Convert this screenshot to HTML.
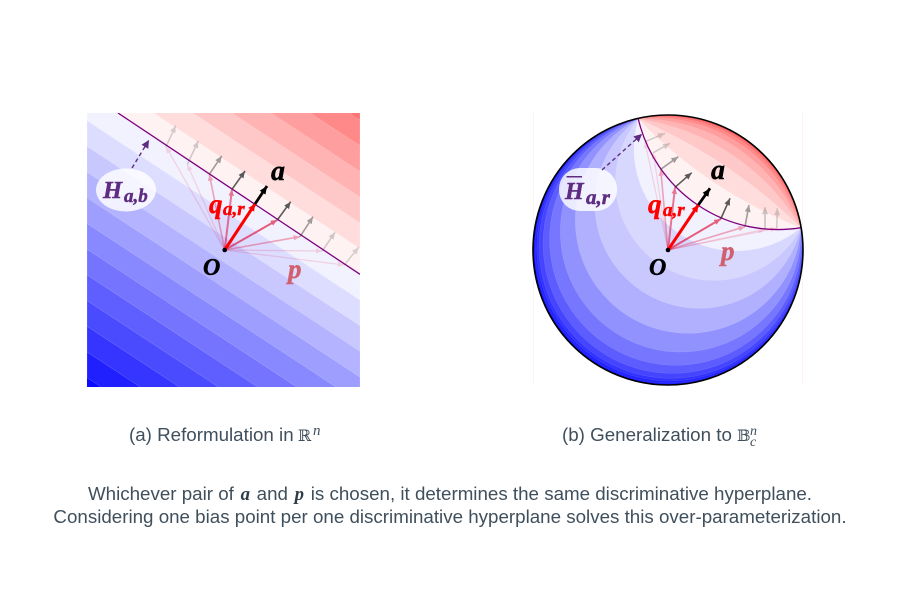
<!DOCTYPE html>
<html><head><meta charset="utf-8"><style>
html,body{margin:0;padding:0;background:#fff;width:900px;height:600px;overflow:hidden}
svg{display:block}
.m{font-family:"Liberation Serif",serif;font-weight:bold;font-style:italic;stroke-width:.45;paint-order:stroke}
.c{font-family:"Liberation Sans",sans-serif;font-size:18.75px;fill:#3f4f5c}
.b{stroke:#fff;stroke-opacity:.3;stroke-width:.5}
.b2{stroke:#fff;stroke-opacity:.18;stroke-width:.4}
</style></head><body>
<svg width="900" height="600" viewBox="0 0 900 600" xmlns="http://www.w3.org/2000/svg">
<defs>
<clipPath id="sq"><rect x="87" y="113" width="273" height="274"/></clipPath>
<clipPath id="ci"><circle cx="668" cy="250" r="135"/></clipPath>
<marker id="hk" markerUnits="userSpaceOnUse" markerWidth="10" markerHeight="8" refX="8" refY="3.5" orient="auto"><path d="M0 0L8 3.5L0 7Z" fill="#000"/></marker>
<marker id="hg" markerUnits="userSpaceOnUse" markerWidth="8" markerHeight="7" refX="7" refY="3" orient="auto"><path d="M0 0L7 3L0 6Z" fill="#333"/></marker>
<marker id="hr" markerUnits="userSpaceOnUse" markerWidth="8" markerHeight="7" refX="6.5" refY="2.75" orient="auto"><path d="M0 0L6.5 2.75L0 5.5Z" fill="#e0103a"/></marker>
<marker id="hR" markerUnits="userSpaceOnUse" markerWidth="9" markerHeight="8" refX="7" refY="3.5" orient="auto"><path d="M0 0L7 3.5L0 7Z" fill="#f00"/></marker>
<marker id="hp" markerUnits="userSpaceOnUse" markerWidth="10" markerHeight="9" refX="8" refY="4" orient="auto"><path d="M0 0L8 4L0 8Z" fill="#5e2d82"/></marker>
</defs>

<!-- LEFT PANEL -->
<g clip-path="url(#sq)">
<rect x="87" y="113" width="273" height="274" fill="#0b0bff"/>
<g class="b">
<polygon points="87,377.7 360,557 360,0 87,0" fill="#2020ff"/>
<polygon points="87,352 360,531.3 360,0 87,0" fill="#3535ff"/>
<polygon points="87,326.3 360,505.6 360,0 87,0" fill="#4a4aff"/>
<polygon points="87,300.6 360,479.9 360,0 87,0" fill="#5f5fff"/>
<polygon points="87,274.9 360,454.2 360,0 87,0" fill="#7474ff"/>
<polygon points="87,249.2 360,428.5 360,0 87,0" fill="#8989ff"/>
<polygon points="87,223.5 360,402.8 360,0 87,0" fill="#9e9eff"/>
<polygon points="87,197.8 360,377.1 360,0 87,0" fill="#b3b3ff"/>
<polygon points="87,172.1 360,351.4 360,0 87,0" fill="#c8c8ff"/>
<polygon points="87,146.4 360,325.7 360,0 87,0" fill="#ddddff"/>
<polygon points="87,120.7 360,300 360,0 87,0" fill="#f2f2ff"/>
<polygon points="87,92.6 360,274.3 360,0 87,0" fill="#fff2f2"/>
<polygon points="87,69.3 360,248.6 360,0 87,0" fill="#ffdddd"/>
<polygon points="87,43.6 360,222.9 360,0 87,0" fill="#ffc8c8"/>
<polygon points="87,17.9 360,197.2 360,0 87,0" fill="#ffb3b3"/>
<polygon points="87,-7.8 360,171.5 360,0 87,0" fill="#ff9e9e"/>
<polygon points="87,-33.5 360,145.8 360,0 87,0" fill="#ff8989"/>
<polygon points="87,-59.2 360,120.1 360,0 87,0" fill="#ff7474"/>
</g>
<line x1="118" y1="113" x2="360" y2="274.3" stroke="#800080" stroke-width="1.3"/>
</g>
<!-- left grey arrows -->
<g stroke="#333" fill="none" stroke-width="1.6">
<line x1="166" y1="146.7" x2="175.7" y2="125.7" opacity=".2" marker-end="url(#hg)"/>
<line x1="187.3" y1="164.3" x2="198.3" y2="141" opacity=".22" marker-end="url(#hg)"/>
<line x1="209.3" y1="174.3" x2="221.7" y2="156" opacity=".45" marker-end="url(#hg)"/>
<line x1="232" y1="189.3" x2="245" y2="171" opacity=".8" marker-end="url(#hg)"/>
<line x1="277.3" y1="220" x2="290.7" y2="201.7" opacity=".8" marker-end="url(#hg)"/>
<line x1="300" y1="236.7" x2="313" y2="216.7" opacity=".45" marker-end="url(#hg)"/>
<line x1="322.3" y1="251" x2="335" y2="232.3" opacity=".22" marker-end="url(#hg)"/>
<line x1="344.3" y1="265" x2="358.7" y2="247.3" opacity=".18" marker-end="url(#hg)"/>
</g>
<line x1="255" y1="204" x2="267" y2="186" stroke="#000" stroke-width="2.8" marker-end="url(#hk)"/>
<!-- left red arrows -->
<g stroke="#e0103a" fill="none">
<line x1="224.7" y1="250" x2="166" y2="146.7" opacity=".14" stroke-width="1.3" marker-end="url(#hr)"/>
<line x1="224.7" y1="250" x2="187.3" y2="164.3" opacity=".14" stroke-width="1.3" marker-end="url(#hr)"/>
<line x1="224.7" y1="250" x2="209.3" y2="174.3" opacity=".35" stroke-width="1.6" marker-end="url(#hr)"/>
<line x1="224.7" y1="250" x2="232" y2="189.3" opacity=".55" stroke-width="2" marker-end="url(#hr)"/>
<line x1="224.7" y1="250" x2="277.3" y2="220" opacity=".65" stroke-width="2" marker-end="url(#hr)"/>
<line x1="224.7" y1="250" x2="300" y2="236.7" opacity=".35" stroke-width="1.6" marker-end="url(#hr)"/>
<line x1="224.7" y1="250" x2="322.3" y2="251" opacity=".16" stroke-width="1.3" marker-end="url(#hr)"/>
<line x1="224.7" y1="250" x2="344.3" y2="265" opacity=".14" stroke-width="1.3" marker-end="url(#hr)"/>
</g>
<line x1="224.7" y1="250" x2="255" y2="204" stroke="#f00" stroke-width="3" marker-end="url(#hR)"/>
<circle cx="224.7" cy="250" r="2.3" fill="#000"/>
<ellipse cx="126" cy="190" rx="30" ry="21.5" fill="#fff" fill-opacity=".82"/>
<line x1="132" y1="168" x2="149" y2="140" stroke="#5e2d82" stroke-width="1.4" stroke-dasharray="4 3" marker-end="url(#hp)"/>
<text class="m" x="103" y="198" font-size="24.500" fill="#5e2d82" stroke="#5e2d82">H</text>
<text class="m" x="124" y="202" font-size="19" fill="#5e2d82" stroke="#5e2d82">a,b</text>
<text class="m" x="271" y="180" font-size="28" fill="#000" stroke="#000">a</text>
<text class="m" x="203" y="275" font-size="24" fill="#000" stroke="#000">O</text>
<text class="m" x="288" y="278" font-size="27" fill="#d0606f" stroke="#d0606f">p</text>
<text class="m" x="209" y="213" font-size="27" fill="#f00" stroke="#f00">q</text>
<text class="m" x="223" y="215" font-size="19" fill="#f00" stroke="#f00">a,r</text>

<!-- RIGHT PANEL -->
<line x1="533.500" y1="113" x2="533.500" y2="385" stroke="#fdf3f6"/>
<line x1="802.500" y1="113" x2="802.500" y2="385" stroke="#fdf3f6"/>
<g clip-path="url(#ci)">
<circle cx="668" cy="250" r="135" fill="#0b0bff"/>
<g class="b2">
<path d="M638.3 119A134.2 134.2 0 1 0 801 227.7A135 135 0 0 0 638.3 119Z" fill="#1414ff"/>
<path d="M638.3 119A133.8 133.8 0 1 0 801 227.7A135 135 0 0 0 638.3 119Z" fill="#2222ff"/>
<path d="M638.3 119A132.9 132.9 0 1 0 801 227.7A135 135 0 0 0 638.3 119Z" fill="#3333ff"/>
<path d="M638.3 119A131.7 131.7 0 1 0 801 227.7A135 135 0 0 0 638.3 119Z" fill="#4545ff"/>
<path d="M638.3 119A129.5 129.5 0 1 0 801 227.7A135 135 0 0 0 638.3 119Z" fill="#5c5cff"/>
<path d="M638.3 119A126 126 0 1 0 801 227.7A135 135 0 0 0 638.3 119Z" fill="#7676ff"/>
<path d="M638.3 119A120.4 120.4 0 1 0 801 227.7A135 135 0 0 0 638.3 119Z" fill="#9292ff"/>
<path d="M638.3 119A113 113 0 1 0 801 227.7A135 135 0 0 0 638.3 119Z" fill="#b0b0ff"/>
<path d="M638.3 119A104.5 104.5 0 1 0 801 227.7A135 135 0 0 0 638.3 119Z" fill="#c8c8ff"/>
<path d="M638.3 119A98.4 98.4 0 1 0 801 227.7A135 135 0 0 0 638.3 119Z" fill="#d8d8ff"/>
<path d="M638.3 119A102.2 102.2 0 0 0 801 227.7A135 135 0 0 0 638.3 119Z" fill="#f2f2ff"/>
<path d="M638.3 119A143.5 143.5 0 0 0 801 227.7A135 135 0 0 0 638.3 119Z" fill="#fff2f2"/>
<path d="M638.3 119A452 452 0 0 0 801 227.7A135 135 0 0 0 638.3 119Z" fill="#ffdddd"/>
<path d="M638.3 119A530 530 0 0 1 801 227.7A135 135 0 0 0 638.3 119Z" fill="#ffc8c8"/>
<path d="M638.3 119A224.7 224.7 0 0 1 801 227.7A135 135 0 0 0 638.3 119Z" fill="#ffb3b3"/>
<path d="M638.3 119A171 171 0 0 1 801 227.7A135 135 0 0 0 638.3 119Z" fill="#ff9e9e"/>
<path d="M638.3 119A151.5 151.5 0 0 1 801 227.7A135 135 0 0 0 638.3 119Z" fill="#ff8989"/>
<path d="M638.3 119A142.7 142.7 0 0 1 801 227.7A135 135 0 0 0 638.3 119Z" fill="#ff7474"/>
<path d="M638.3 119A138.3 138.3 0 0 1 801 227.7A135 135 0 0 0 638.3 119Z" fill="#ff5f5f"/>
</g>
<path d="M638.3 119A143.5 143.5 0 0 0 801 227.7" fill="none" stroke="#800080" stroke-width="1.3"/>
</g>
<circle cx="668" cy="250" r="135" fill="none" stroke="#000" stroke-width="1.6"/>
<!-- right grey arrows -->
<g stroke="#333" fill="none" stroke-width="1.6">
<line x1="645" y1="141.700" x2="665" y2="133.300" opacity=".2" marker-end="url(#hg)"/>
<line x1="653.300" y1="152.700" x2="670" y2="143.300" opacity=".22" marker-end="url(#hg)"/>
<line x1="660.700" y1="169.300" x2="678.300" y2="156.700" opacity=".45" marker-end="url(#hg)"/>
<line x1="675" y1="187.300" x2="691.700" y2="172.700" opacity=".8" marker-end="url(#hg)"/>
<line x1="720.700" y1="219" x2="730" y2="198.300" opacity=".8" marker-end="url(#hg)"/>
<line x1="745" y1="226.700" x2="749" y2="205" opacity=".45" marker-end="url(#hg)"/>
<line x1="765" y1="229.300" x2="765" y2="207.300" opacity=".25" marker-end="url(#hg)"/>
<line x1="776.700" y1="228.300" x2="777.300" y2="208.300" opacity=".2" marker-end="url(#hg)"/>
</g>
<line x1="698.300" y1="205" x2="710" y2="188.300" stroke="#000" stroke-width="2.8" marker-end="url(#hk)"/>
<!-- right red arrows -->
<g stroke="#e0103a" fill="none">
<line x1="668" y1="250" x2="645" y2="141.700" opacity=".14" stroke-width="1.3" marker-end="url(#hr)"/>
<line x1="668" y1="250" x2="653.300" y2="152.700" opacity=".14" stroke-width="1.3" marker-end="url(#hr)"/>
<line x1="668" y1="250" x2="660.700" y2="169.300" opacity=".35" stroke-width="1.6" marker-end="url(#hr)"/>
<line x1="668" y1="250" x2="675" y2="187.300" opacity=".55" stroke-width="2" marker-end="url(#hr)"/>
<line x1="668" y1="250" x2="720.700" y2="219" opacity=".65" stroke-width="2" marker-end="url(#hr)"/>
<line x1="668" y1="250" x2="745" y2="226.700" opacity=".35" stroke-width="1.6" marker-end="url(#hr)"/>
<line x1="668" y1="250" x2="765" y2="229.300" opacity=".16" stroke-width="1.3" marker-end="url(#hr)"/>
<line x1="668" y1="250" x2="776.700" y2="228.300" opacity=".14" stroke-width="1.3" marker-end="url(#hr)"/>
</g>
<line x1="668" y1="250" x2="698.300" y2="205" stroke="#f00" stroke-width="3" marker-end="url(#hR)"/>
<circle cx="668" cy="250" r="2.3" fill="#000"/>
<rect x="559" y="168" width="58" height="43" rx="21" fill="#fff" fill-opacity=".82"/>
<line x1="602" y1="170" x2="642" y2="134" stroke="#5e2d82" stroke-width="1.4" stroke-dasharray="4 3" marker-end="url(#hp)"/>
<rect x="566.500" y="176" width="15.500" height="1.500" fill="#5e2d82"/>
<text class="m" x="565" y="199" font-size="24" fill="#5e2d82" stroke="#5e2d82">H</text>
<text class="m" x="586" y="204" font-size="21" fill="#5e2d82" stroke="#5e2d82">a,r</text>
<text class="m" x="711" y="179" font-size="28" fill="#000" stroke="#000">a</text>
<text class="m" x="649" y="275" font-size="24" fill="#000" stroke="#000">O</text>
<text class="m" x="721" y="260" font-size="27" fill="#d0606f" stroke="#d0606f">p</text>
<text class="m" x="648" y="213" font-size="27" fill="#f00" stroke="#f00">q</text>
<text class="m" x="663" y="216" font-size="19" fill="#f00" stroke="#f00">a,r</text>

<!-- CAPTIONS -->
<text class="c" x="129" y="441">(a) Reformulation in</text>
<text x="298" y="441" font-family="'DejaVu Serif',serif" font-size="16" fill="#3f4f5c">ℝ</text>
<text x="313" y="435" font-family="'Liberation Serif',serif" font-style="italic" font-size="15" fill="#3f4f5c">n</text>
<text class="c" x="562" y="441">(b) Generalization to</text>
<text x="737" y="441" font-family="'DejaVu Serif',serif" font-size="16" fill="#3f4f5c">𝔹</text>
<text x="750" y="435" font-family="'Liberation Serif',serif" font-style="italic" font-size="14" fill="#3f4f5c">n</text>
<text x="750" y="446" font-family="'Liberation Serif',serif" font-style="italic" font-size="14" fill="#3f4f5c">c</text>
<text class="c" x="450" y="500" text-anchor="middle">Whichever pair of <tspan font-family="Liberation Serif" font-weight="bold" font-style="italic" fill="#2f3d48" dx="1.500">a</tspan><tspan dx="1.500"> and </tspan><tspan font-family="Liberation Serif" font-weight="bold" font-style="italic" fill="#2f3d48" dx="1.500">p</tspan><tspan dx="1.500"> is chosen, it determines the same discriminative hyperplane.</tspan></text>
<text class="c" x="450" y="523" text-anchor="middle">Considering one bias point per one discriminative hyperplane solves this over-parameterization.</text>
</svg>
</body></html>
